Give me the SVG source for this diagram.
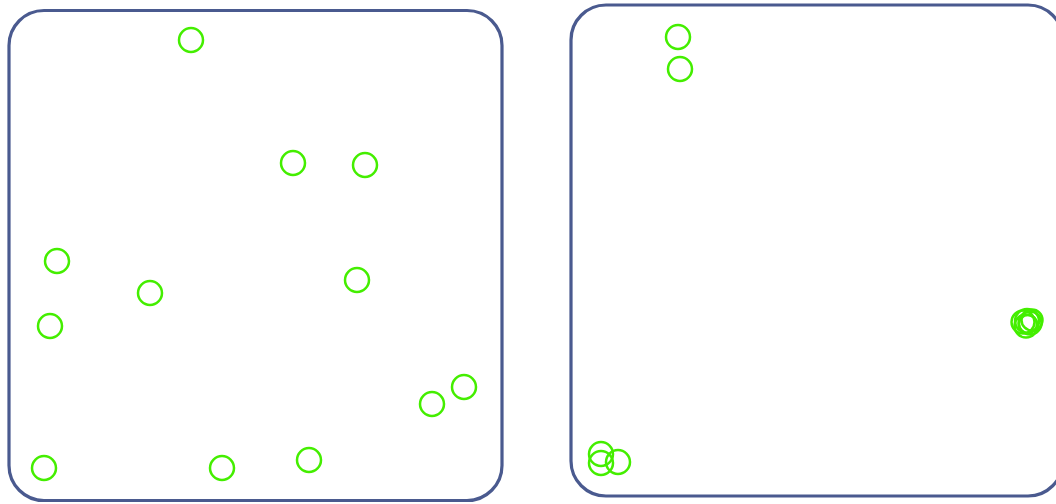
<svg xmlns="http://www.w3.org/2000/svg" width="1056" height="504" viewBox="0 0 1056 504">
<style>
.panel{fill:#fff;stroke:#4a5a8f;stroke-width:3.2}
.pt{fill:none;stroke:#44ee00;stroke-width:2.5}
</style>
<rect width="1056" height="504" fill="#fff"/>
<g id="panel-left">
<rect class="panel" x="9" y="10.5" width="493" height="490" rx="35"/>
</g>
<g id="panel-right">
<rect class="panel" x="571" y="5" width="492" height="491" rx="35"/>
</g>
<g id="points-left">
<circle class="pt" cx="191" cy="40" r="12"/>
<circle class="pt" cx="293" cy="163" r="12"/>
<circle class="pt" cx="365" cy="165" r="12"/>
<circle class="pt" cx="57" cy="261" r="12"/>
<circle class="pt" cx="150" cy="293" r="12"/>
<circle class="pt" cx="357" cy="280" r="12"/>
<circle class="pt" cx="50" cy="326" r="12"/>
<circle class="pt" cx="464" cy="387" r="12"/>
<circle class="pt" cx="432" cy="404" r="12"/>
<circle class="pt" cx="44" cy="468" r="12"/>
<circle class="pt" cx="222" cy="468" r="12"/>
<circle class="pt" cx="309" cy="460" r="12"/>
</g>
<g id="points-right">
<circle class="pt" cx="678" cy="37" r="12"/>
<circle class="pt" cx="680" cy="69" r="12"/>
<circle class="pt" cx="1023" cy="322" r="11.5"/>
<circle class="pt" cx="1027" cy="321" r="12"/>
<circle class="pt" cx="1030" cy="323" r="11.5"/>
<circle class="pt" cx="1026" cy="326" r="11.5"/>
<circle class="pt" cx="1032" cy="320" r="10.5"/>
<circle class="pt" cx="1028" cy="324" r="9"/>
<circle class="pt" cx="601" cy="454" r="12"/>
<circle class="pt" cx="601" cy="463" r="12"/>
<circle class="pt" cx="618" cy="462" r="12"/>
</g>
</svg>
